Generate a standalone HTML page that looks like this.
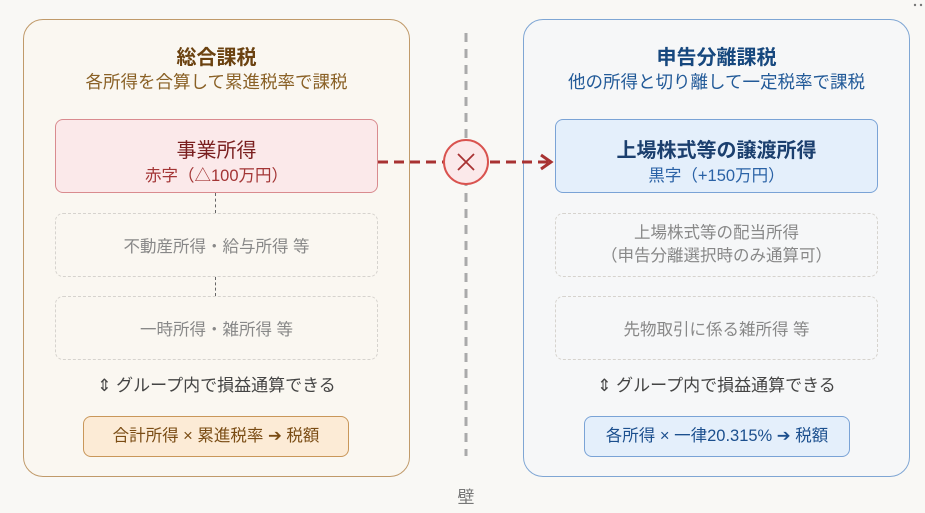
<!DOCTYPE html>
<html><head><meta charset="utf-8"><style>
body{margin:0;width:925px;height:513px;background:#f9f8f5;font-family:"Liberation Sans","Noto Sans CJK JP",sans-serif;position:relative;overflow:hidden}
.a{position:absolute;box-sizing:border-box;text-align:center;white-space:nowrap}
</style></head><body>
<div class="a" style="left:23px;top:19px;width:387px;height:458px;border:1.5px solid #c09a6a;border-radius:20px;background:#faf7f1"></div>
<div class="a" style="left:523px;top:19px;width:387px;height:458px;border:1.5px solid #7fa6d4;border-radius:20px;background:#f6f7f8"></div>

<div class="a" style="left:23px;top:41px;width:387px;font-size:20px;font-weight:bold;color:#6b4210">総合課税</div>
<div class="a" style="left:23px;top:69px;width:387px;font-size:17.5px;color:#8a6126">各所得を合算して累進税率で課税</div>
<div class="a" style="left:523px;top:41px;width:387px;font-size:20px;font-weight:bold;color:#17487e">申告分離課税</div>
<div class="a" style="left:523px;top:69px;width:387px;font-size:17.5px;color:#225a98">他の所得と切り離して一定税率で課税</div>

<div class="a" style="left:55px;top:119px;width:323px;height:74px;border:1px solid #d98b8f;border-radius:8px;background:#fbe9ea"></div>
<div class="a" style="left:55px;top:134px;width:323px;font-size:20px;color:#7a1f1f">事業所得</div>
<div class="a" style="left:55px;top:162px;width:323px;font-size:16.5px;color:#a33535">赤字（△100万円）</div>

<div class="a" style="left:555px;top:119px;width:323px;height:74px;border:1px solid #7aa3d6;border-radius:8px;background:#e4effb"></div>
<div class="a" style="left:555px;top:134px;width:323px;font-size:20px;font-weight:bold;color:#1b3f6e">上場株式等の譲渡所得</div>
<div class="a" style="left:555px;top:162px;width:323px;font-size:16.5px;color:#2a62a6">黒字（+150万円）</div>

<div class="a" style="left:55px;top:213px;width:323px;height:64px;border:1.5px dashed #d6d3ce;border-radius:8px"></div>
<div class="a" style="left:55px;top:233px;width:323px;font-size:16.5px;color:#888">不動産所得・給与所得 等</div>
<div class="a" style="left:55px;top:296px;width:323px;height:64px;border:1.5px dashed #d6d3ce;border-radius:8px"></div>
<div class="a" style="left:55px;top:316px;width:323px;font-size:16.5px;color:#888">一時所得・雑所得 等</div>
<div class="a" style="left:215px;top:193px;width:0;height:20px;border-left:1.5px dashed #666"></div>
<div class="a" style="left:215px;top:277px;width:0;height:19px;border-left:1.5px dashed #666"></div>

<div class="a" style="left:555px;top:213px;width:323px;height:64px;border:1.5px dashed #d6d3ce;border-radius:8px"></div>
<div class="a" style="left:555px;top:222px;width:323px;font-size:16.5px;color:#888;line-height:23px">上場株式等の配当所得<br>（申告分離選択時のみ通算可）</div>
<div class="a" style="left:555px;top:296px;width:323px;height:64px;border:1.5px dashed #d6d3ce;border-radius:8px"></div>
<div class="a" style="left:555px;top:316px;width:323px;font-size:16.5px;color:#888">先物取引に係る雑所得 等</div>

<div class="a" style="left:23px;top:371px;width:387px;font-size:17px;color:#444">⇕ グループ内で損益通算できる</div>
<div class="a" style="left:523px;top:371px;width:387px;font-size:17px;color:#444">⇕ グループ内で損益通算できる</div>

<div class="a" style="left:83px;top:416px;width:266px;height:41px;border:1px solid #c9975a;border-radius:8px;background:#fcebd6;line-height:39px;font-size:16.5px;color:#7a4c14">合計所得 × 累進税率 ➔ 税額</div>
<div class="a" style="left:584px;top:416px;width:266px;height:41px;border:1px solid #7aa3d6;border-radius:8px;background:#e4effb;line-height:39px;font-size:16.5px;color:#1b4f8e">各所得 × 一律20.315% ➔ 税額</div>

<svg class="a" style="left:0;top:0" width="925" height="513">
<line x1="466" y1="33" x2="466" y2="456" stroke="#aaa" stroke-width="3" stroke-dasharray="9,7"/>
<line x1="378" y1="162" x2="550" y2="162" stroke="#a83232" stroke-width="3" stroke-dasharray="10,6"/>
<polyline points="541,155 551,162 541,169" fill="none" stroke="#a83232" stroke-width="3"/>
<circle cx="466" cy="162" r="22" fill="#fbe9ea" stroke="#d9534f" stroke-width="2"/>
<line x1="458" y1="154" x2="474" y2="170" stroke="#a83232" stroke-width="1.8"/>
<line x1="474" y1="154" x2="458" y2="170" stroke="#a83232" stroke-width="1.8"/>
<circle cx="915" cy="5" r="1.2" fill="#777"/><circle cx="921" cy="5" r="1.2" fill="#777"/>
</svg>
<div class="a" style="left:446px;top:483px;width:40px;font-size:17px;color:#777">壁</div>
</body></html>
